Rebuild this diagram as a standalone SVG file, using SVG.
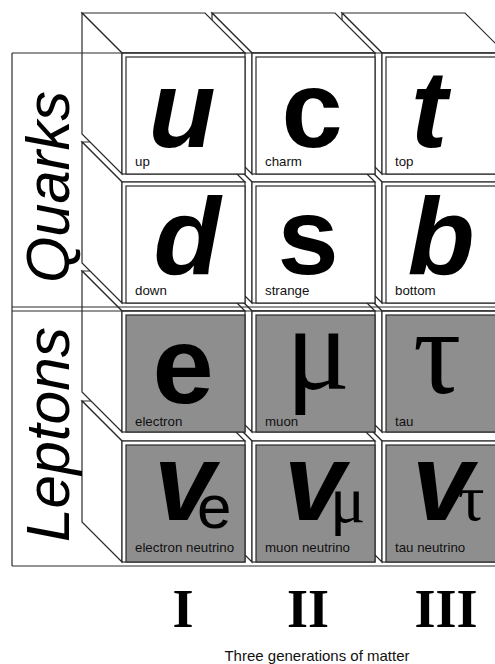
<svg xmlns="http://www.w3.org/2000/svg" width="495" height="664" viewBox="0 0 495 664">
<defs>
<style>
.f{fill:#fff;stroke:#2a2a2a;stroke-width:1.2}
.g{fill:#8e8e8e;stroke:#2a2a2a;stroke-width:1.2}
.ln{stroke:#2a2a2a;stroke-width:1.2;fill:none}
.big{font-family:"Liberation Sans",Arial,sans-serif;font-weight:bold;font-size:110px;fill:#000}
.it{font-style:italic}
.gr{font-family:"Liberation Serif","Times New Roman",serif;font-size:120px;fill:#000}
.sub{font-family:"Liberation Sans",Arial,sans-serif;font-size:62px;fill:#000}
.subg{font-family:"Liberation Serif","Times New Roman",serif;font-size:66px;fill:#000}
.sm{font-family:"Liberation Sans",Arial,sans-serif;font-size:13.3px;fill:#111}
.lab{font-family:"Liberation Sans",Arial,sans-serif;font-style:italic;font-size:62px;fill:#000}
.rom{font-family:"Liberation Serif","Times New Roman",serif;font-weight:bold;font-size:54px;fill:#000}
.cap{font-family:"Liberation Sans",Arial,sans-serif;font-size:15px;fill:#111}
</style>
<g id="cubeW">
<polygon class="f" points="0,0 123,0 83,-40 -40,-40"/>
<polygon class="f" points="0,0 0,121 -40,81 -40,-40"/>
<rect class="f" x="0" y="0" width="123" height="121"/>
<rect class="f" x="4" y="4" width="119" height="117"/>
</g>
<g id="cubeG">
<polygon class="f" points="0,0 123,0 83,-40 -40,-40"/>
<polygon class="f" points="0,0 0,121 -40,81 -40,-40"/>
<rect class="f" x="0" y="0" width="123" height="121"/>
<rect class="g" x="4" y="4" width="119" height="117"/>
</g>
</defs>
<rect x="0" y="0" width="495" height="664" fill="#fff"/>

<g id="cube-nutau">
<use href="#cubeG" x="382" y="441"/>
<text class="big it" x="412" y="520">v</text>
<text class="subg" x="458" y="520">τ</text>
<text class="sm" x="395" y="552">tau neutrino</text>
</g>
<g id="cube-numu">
<use href="#cubeG" x="252" y="441"/>
<text class="big it" x="284" y="520">v</text>
<text class="subg" x="330" y="522">μ</text>
<text class="sm" x="265" y="552">muon neutrino</text>
</g>
<g id="cube-nue">
<use href="#cubeG" x="122" y="441"/>
<text class="big it" x="154" y="520">v</text>
<text class="sub" x="197" y="528">e</text>
<text class="sm" x="135" y="552">electron neutrino</text>
</g>

<g id="cube-tau">
<use href="#cubeG" x="382" y="311"/>
<text class="gr" x="437" y="393" text-anchor="middle">τ</text>
<text class="sm" x="395" y="426">tau</text>
</g>
<g id="cube-muon">
<use href="#cubeG" x="252" y="311"/>
<text class="gr" x="318" y="389" text-anchor="middle">μ</text>
<text class="sm" x="265" y="426">muon</text>
</g>
<g id="cube-electron">
<use href="#cubeG" x="122" y="311"/>
<text class="big" x="183" y="403" text-anchor="middle">e</text>
<text class="sm" x="135" y="426">electron</text>
</g>

<g id="cube-bottom">
<use href="#cubeW" x="382" y="182"/>
<text class="big it" x="441" y="274" text-anchor="middle">b</text>
<text class="sm" x="395" y="295">bottom</text>
</g>
<g id="cube-strange">
<use href="#cubeW" x="252" y="182"/>
<text class="big" x="308" y="274" text-anchor="middle">s</text>
<text class="sm" x="265" y="295">strange</text>
</g>
<g id="cube-down">
<use href="#cubeW" x="122" y="182"/>
<text class="big it" x="187" y="274" text-anchor="middle">d</text>
<text class="sm" x="135" y="295">down</text>
</g>

<g id="cube-top">
<use href="#cubeW" x="382" y="53"/>
<text class="big it" x="429" y="147" text-anchor="middle">t</text>
<text class="sm" x="395" y="166">top</text>
</g>
<g id="cube-charm">
<use href="#cubeW" x="252" y="53"/>
<text class="big" x="312" y="147" text-anchor="middle">c</text>
<text class="sm" x="265" y="166">charm</text>
</g>
<g id="cube-up">
<use href="#cubeW" x="122" y="53"/>
<text class="big it" x="182" y="147" text-anchor="middle">u</text>
<text class="sm" x="135" y="166">up</text>
</g>

<g id="frame">
<line class="ln" x1="12" y1="53" x2="495" y2="53"/>
<line class="ln" x1="12" y1="53" x2="12" y2="566"/>
<line class="ln" x1="12" y1="307" x2="495" y2="307"/>
<line class="ln" x1="12" y1="311" x2="495" y2="311"/>
<line class="ln" x1="12" y1="566" x2="495" y2="566"/>
</g>

<g id="label-quarks">
<text class="lab" transform="translate(69,283) rotate(-90)" textLength="192" lengthAdjust="spacingAndGlyphs">Quarks</text>
</g>
<g id="label-leptons">
<text class="lab" transform="translate(69,542) rotate(-90)" textLength="215" lengthAdjust="spacingAndGlyphs">Leptons</text>
</g>

<g id="generations">
<text class="rom" x="183" y="627" text-anchor="middle">I</text>
<text class="rom" x="308" y="627" text-anchor="middle">II</text>
<text class="rom" x="446" y="627" text-anchor="middle">III</text>
<text class="cap" x="317" y="661" text-anchor="middle">Three generations of matter</text>
</g>
</svg>
